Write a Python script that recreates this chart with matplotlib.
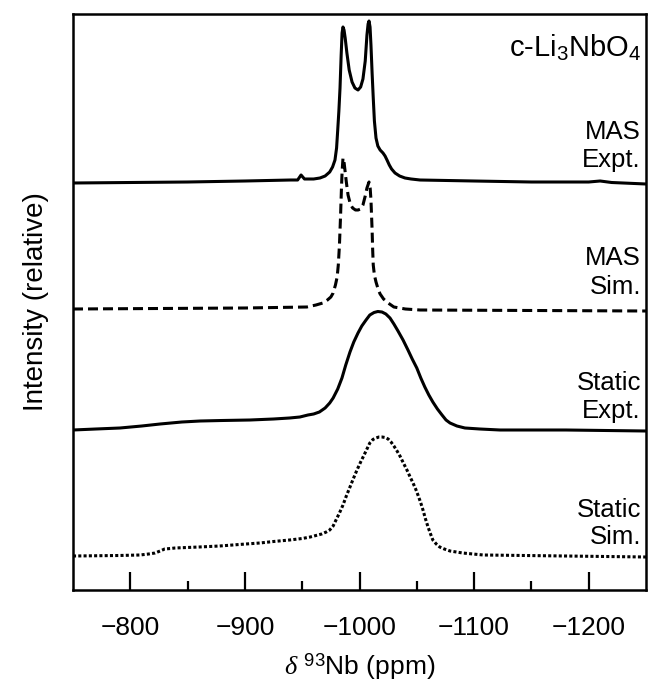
import matplotlib
matplotlib.use("Agg")
import matplotlib.pyplot as plt
import numpy as np

plt.rcParams['font.family'] = ['Liberation Sans', 'DejaVu Sans']
plt.rcParams['mathtext.fontset'] = 'custom'
plt.rcParams['mathtext.rm'] = 'Liberation Sans'
plt.rcParams['mathtext.it'] = 'Liberation Serif:italic'
plt.rcParams['lines.scale_dashes'] = False

# ---- data (chemical shift in ppm, intensity in arbitrary units above baseline) ----
mas_expt_ppm = [-750, -800, -850, -900, -940, -946, -949, -952, -955, -960, -965.5, -970,
                -974, -976.5, -978.6, -980, -981, -982, -983, -984, -984.8, -985.6, -986.5,
                -987.5, -989, -991, -993.5, -996, -998.7, -1001, -1003, -1005, -1006.5,
                -1007.5, -1008.3, -1009.2, -1010, -1011, -1012, -1013, -1014.4, -1016,
                -1018, -1020.5, -1022.3, -1024, -1026, -1028, -1031, -1035, -1039.7, -1045,
                -1052.8, -1100, -1150, -1200, -1210, -1220, -1250]
mas_expt_int = [0, 0.5, 1, 2, 3, 3, 8, 4, 4, 4, 5, 7,
                11, 16, 23, 35, 53, 72, 95, 128, 150, 156, 153,
                145, 130, 113, 101, 95, 93, 96, 104, 122, 148,
                159, 162, 156, 138, 110, 85, 62, 45, 37,
                33, 30, 27, 23, 18, 14, 10, 7, 5, 4,
                3, 2, 1, 1, 2, 0.5, -1]

mas_sim_ppm = [-750, -900, -954, -962, -968, -972, -975, -977, -979, -980.5, -981.5,
               -982.5, -983.5, -984.2, -984.8, -985.6, -986.5, -987.3, -988.5, -990, -992,
               -994, -996.5, -998.7, -1001, -1003, -1005, -1006.5, -1008.3, -1009.3, -1010,
               -1011, -1011.5, -1012, -1013, -1014.4, -1016.5, -1018, -1021, -1025, -1030,
               -1040, -1052.8, -1250]
mas_sim_int = [1, 2, 3, 5, 7, 10, 13, 17, 25, 33, 45,
               65, 95, 120, 138, 152, 148, 140, 128, 115, 106,
               102, 100, 100, 101, 105, 114, 122, 128, 122, 110,
               80, 60, 45, 35, 28, 20, 16, 11, 7, 3,
               1, 0, -1]

static_expt_ppm = [-750, -770, -791, -810, -826, -845, -861, -880, -904.5, -925, -939, -948,
                   -955, -960, -965, -970, -974, -977, -981, -984.7, -988, -991.7, -995,
                   -998.7, -1002, -1005.7, -1009, -1012.7, -1016, -1019.6, -1023, -1026.6,
                   -1030, -1033.6, -1038, -1042.3, -1046, -1050, -1053.5, -1057, -1060.5,
                   -1064, -1068, -1072, -1075.5, -1079, -1085, -1092, -1105, -1122.6, -1180,
                   -1250]
static_expt_int = [0, 1, 2, 4, 6, 8, 9, 9.5, 10, 11, 12, 13,
                   15, 16, 18, 22, 27, 32, 41, 52, 65, 78, 88,
                   97, 104, 110, 115, 117.5, 118.5, 118, 116, 112,
                   106, 99, 90, 80, 71, 62, 52, 43, 35,
                   28, 21, 15, 10, 7, 4, 2, 1, 0, 0,
                   -1]

static_sim_ppm = [-750, -790, -808.5, -816, -821.6, -826, -830, -835, -839, -860, -878, -895,
                  -913, -925, -939, -950, -957, -962, -967, -971, -974, -977, -979.5, -982.5,
                  -985.6, -988.5, -991.7, -994.5, -997.8, -1001, -1004, -1006.5, -1009,
                  -1011.7, -1014.4, -1017, -1019.6, -1022.3, -1025, -1027.5, -1030, -1032.5,
                  -1035.3, -1038.3, -1041.4, -1044, -1046.7, -1049, -1051, -1053.2, -1055.4,
                  -1057.6, -1059.8, -1062, -1064, -1067, -1070, -1074, -1079, -1090, -1108,
                  -1180, -1250]
static_sim_int = [0, 0.5, 1, 2, 3, 5, 7, 7.5, 8, 9, 10, 11.5,
                  13, 14.5, 16, 17.5, 19, 20.5, 22, 24, 26, 30, 36, 43,
                  51, 60, 69, 77, 86, 94, 101, 107, 113,
                  116.5, 118, 119, 119, 118.5, 117, 114, 110, 105.5,
                  100, 93, 86, 79.5, 73, 67, 61, 54, 46,
                  37, 29, 22, 16, 12, 9, 7, 5, 3, 1,
                  0, -1]

offsets = [407, 280, 160, 34]
labels = [("MAS", "Expt."), ("MAS", "Sim."), ("Static", "Expt."), ("Static", "Sim.")]
x_ticks = [-800, -900, -1000, -1100, -1200]

# ---- figure ----
fig = plt.figure(figsize=(6.48, 6.83), dpi=100)
ax = fig.add_axes([73/648, (683-590)/683, (646-73)/648, (590-14)/683])

lw = 2.2
ax.plot(mas_expt_ppm, np.array(mas_expt_int) + offsets[0], color='black', lw=lw,
        solid_joinstyle='round')
ax.plot(mas_sim_ppm, np.array(mas_sim_int) + offsets[1], color='black', lw=lw,
        linestyle=(0, (7.2, 3.6)))
ax.plot(static_expt_ppm, np.array(static_expt_int) + offsets[2], color='black', lw=lw,
        solid_joinstyle='round')
ax.plot(static_sim_ppm, np.array(static_sim_int) + offsets[3], color='black', lw=lw,
        linestyle=(0, (2.2, 1.6)))

ax.set_xlim(-750, -1250)
ax.set_ylim(0, 576)
ax.set_xticks(x_ticks)
ax.set_xticklabels([f"\u2212{abs(t)}" for t in x_ticks])
ax.set_xticks([-850, -950, -1050, -1150], minor=True)
ax.set_yticks([])
ax.tick_params(axis='x', which='major', direction='in', length=13, width=1.6,
               labelsize=19, pad=19)
ax.tick_params(axis='x', which='minor', direction='in', length=6.5, width=1.6)
for s in ax.spines.values():
    s.set_linewidth(1.8)

ax.set_xlabel(r"$\delta$ $^{93}$Nb (ppm)", fontsize=19, labelpad=8)
ax.set_ylabel("Intensity (relative)", fontsize=20, labelpad=17)

# annotations (right aligned)
tx = 0.991
ax.text(tx, 590 - 48, r"c-Li$_3$NbO$_4$", transform=ax.get_yaxis_transform(),
        ha='right', va='center', fontsize=21)
line_y = [(590 - 132, 590 - 160), (590 - 258, 590 - 287),
          (590 - 383, 590 - 411), (590 - 510, 590 - 537)]
for (a, b), (y1, y2) in zip(labels, line_y):
    ax.text(tx, y1, a, transform=ax.get_yaxis_transform(), ha='right', va='center', fontsize=18.5)
    ax.text(tx, y2, b, transform=ax.get_yaxis_transform(), ha='right', va='center', fontsize=18.5)

fig.savefig("out.png", dpi=100)
